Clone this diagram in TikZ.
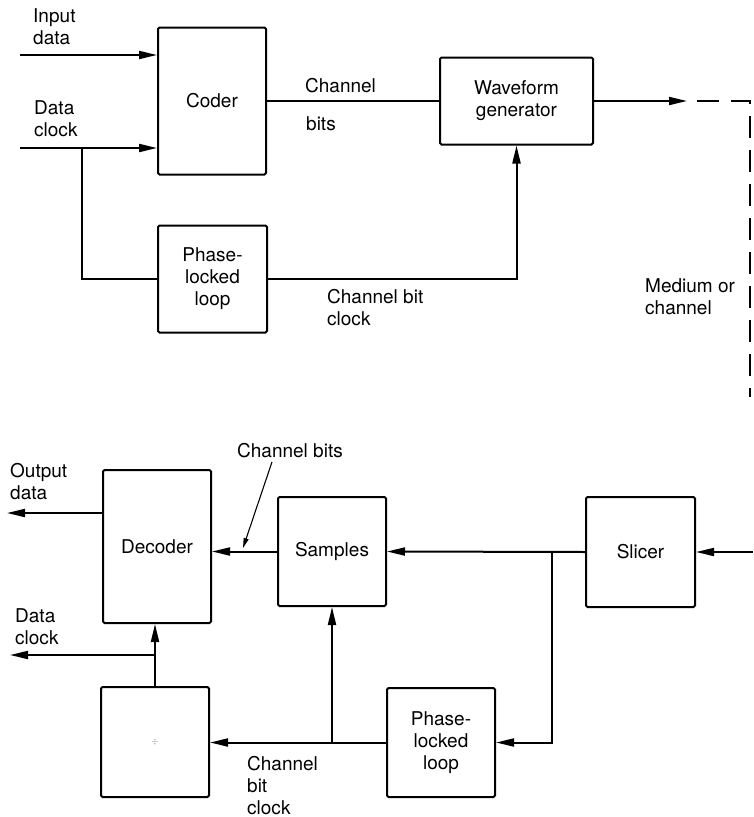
\documentclass[tikz,border=0pt]{standalone}
\usepackage{fontspec}
\setmainfont{TeX Gyre Heros}
\usetikzlibrary{arrows.meta,calc}
\newcommand\blkfont{\fontsize{19}{22}\selectfont}
\tikzset{
  blk/.style={draw, line width=2pt, rounded corners=1.5pt, inner sep=0pt,
    align=center, font=\blkfont},
  lbl/.style={anchor=north west, inner sep=0pt, align=left, font=\blkfont},
  wire/.style={line width=2pt},
  arr/.style={wire, -{Triangle[length=18pt,width=8pt]}},
  leader/.style={line width=1.1pt, -{Triangle[length=10pt,width=5pt]}},
}

\begin{document}
\begin{tikzpicture}[x=1pt, y=-1pt]
% Record/transmit path on top, replay path below; coordinates are
% taken in picture units (1 unit = 1pt, y grows downwards).
\useasboundingbox (0,0) rectangle (753,817);
% --- top half: coder side
\node[blk, minimum width=108, minimum height=147] (coder) at (212,101) {Coder};
\node[blk, minimum width=109, minimum height=107] (pll1) at (212.5,279) {Phase-\\locked\\loop};
\node[blk, minimum width=153, minimum height=87] (wave) at (516.5,101) {Waveform\\generator};
\node[lbl] (indata) at (33,8) {Input\\data};
\node[lbl] (inclk) at (34,100) {Data\\clock};
\node[lbl, anchor=south west] (chtop) at (305,93) {Channel};
\node[lbl] (chbot) at (306,116) {bits};
\node[lbl] (cbclk) at (327,289) {Channel bit\\clock};
\node[lbl] (medium) at (645,278) {Medium or\\channel};
\coordinate (inD) at (20,55);
\coordinate (inC) at (20,148);
\coordinate (tapC) at (82,148);
\coordinate (chout) at (687,101);
\coordinate (medtop) at (697,101);
\coordinate (medbot) at (750,397);
\draw[arr] (inD) -- (coder.west |- inD);
\draw[arr] (inC) -- (coder.west |- inC);
\draw[wire] (tapC) |- (pll1.west);
\draw[wire] (coder.east) -- (wave.west);
\draw[arr] (pll1.east) -| (wave.south);
\draw[arr] (wave.east) -- (chout);
\draw[wire, dash pattern=on 22pt off 12pt] (medtop) -| (medbot);
% --- bottom half: decoder side
\node[blk, minimum width=108, minimum height=153] (decoder) at (157,546.5) {Decoder};
\node[blk, minimum width=108, minimum height=109] (samples) at (332,551.5) {Samples};
\node[blk, minimum width=109, minimum height=110] (slicer) at (640.5,552) {Slicer};
\node[blk, minimum width=108, minimum height=110] (divider) at (155,742) {\textcolor{black!55}{\small$\div$}};
\node[blk, minimum width=108, minimum height=109] (pll2) at (441,742.5) {Phase-\\locked\\loop};
\node[lbl] (outdata) at (10,463) {Output\\data};
\node[lbl] (outclk) at (15,608) {Data\\clock};
\node[lbl] (cblab) at (237,443) {Channel bits};
\node[lbl] (cbclk2) at (247,756) {Channel\\bit\\clock};
\coordinate (medin) at (753,552);
\coordinate (tapS) at (552,552);
\coordinate (tapB) at (samples.south |- pll2.west);
\coordinate (tapD) at ($(divider.north)!0.5!(divider.north |- decoder.south)$);
\coordinate (outD) at (7,513);
\coordinate (outC) at (10,655);
\coordinate (cbtip) at (243,548);
\draw[arr] (medin) -- (slicer.east);
\draw[arr] (slicer.west) -- (samples.east);
\draw[arr] (tapS) |- (pll2.east);
\draw[arr] (samples.west) -- (decoder.east |- samples.west);
\draw[arr] (pll2.west) -- (divider.east |- pll2.west);
\draw[arr] (tapB) -- (samples.south);
\draw[arr] (divider.north) -- (divider.north |- decoder.south);
\draw[arr] (tapD) -- (outC |- tapD);
\draw[arr] (decoder.west |- outD) -- (outD);
\draw[leader] ([xshift=35pt, yshift=-4pt]cblab.south west) -- (cbtip);
\end{tikzpicture}
\end{document}
